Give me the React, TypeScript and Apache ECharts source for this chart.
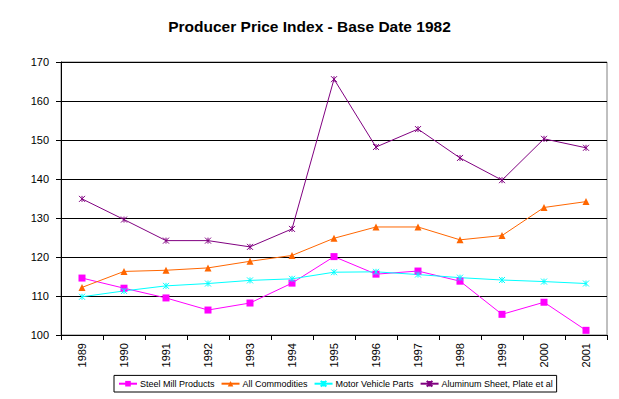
import React, { useEffect, useRef } from "react";
import * as echarts from "echarts";

const years = ["1989","1990","1991","1992","1993","1994","1995","1996","1997","1998","1999","2000","2001"];
const steelMill = [114.6,112.0,109.5,106.4,108.2,113.3,120.1,115.6,116.4,113.8,105.3,108.4,101.2];
const allCommodities = [112.2,116.3,116.6,117.2,118.9,120.4,124.8,127.7,127.7,124.4,125.5,132.7,134.2];
const motorVehicle = [109.8,111.3,112.6,113.2,114.0,114.4,116.1,116.2,115.5,114.7,114.1,113.7,113.2];
const aluminum = [134.9,129.6,124.2,124.2,122.6,127.2,165.6,148.2,152.8,145.4,139.7,150.3,148.0];

const star = "path://M0,0L10,10M10,0L0,10M5,0L5,10";

export default function App() {
  const ref = useRef<HTMLDivElement>(null);
  useEffect(() => {
    const chart = echarts.init(ref.current!, undefined, { renderer: "svg" });
    const font = "Liberation Sans, Arial, sans-serif";
    const mk = (name: string, data: number[], color: string, symbol: string, size: number, stroke: boolean) => ({
      name,
      type: "line",
      data,
      symbol,
      symbolSize: size,
      lineStyle: { color, width: 1 },
      itemStyle: stroke
        ? { color: "none", borderColor: color, borderWidth: 1 }
        : { color, borderColor: color, borderWidth: 0 },
      emphasis: { disabled: true },
    });
    chart.setOption({
      animation: false,
      backgroundColor: "#fff",
      title: {
        text: "Producer Price Index - Base Date 1982",
        left: "center",
        top: 13,
        textStyle: { fontFamily: font, fontSize: 15.5, fontWeight: "bold", color: "#000" },
      },
      grid: { left: 61, right: 12, top: 62, bottom: 64, show: true, borderColor: "#808080", borderWidth: 1, backgroundColor: "#fff" },
      xAxis: {
        type: "category",
        data: years,
        boundaryGap: true,
        axisLine: { lineStyle: { color: "#000" } },
        axisTick: { show: true, alignWithLabel: false, length: 5, lineStyle: { color: "#000" } },
        axisLabel: { rotate: 90, fontFamily: font, fontSize: 11, color: "#000", margin: 8, interval: 0 },
      },
      yAxis: {
        type: "value",
        min: 100,
        max: 170,
        interval: 10,
        axisLine: { show: true, lineStyle: { color: "#000" } },
        axisTick: { show: true, length: 5, lineStyle: { color: "#000" } },
        splitLine: { lineStyle: { color: "#000", width: 1 } },
        axisLabel: { fontFamily: font, fontSize: 11, color: "#000", margin: 12 },
      },
      legend: {
        bottom: 7,
        left: 114,
        itemWidth: 18,
        itemHeight: 7,
        itemGap: 6,
        padding: [3, 4, 3, 4],
        borderColor: "#000",
        borderWidth: 1,
        textStyle: { fontFamily: font, fontSize: 9, color: "#000", padding: [0, 0, 0, -2] },
        data: ["Steel Mill Products", "All Commodities", "Motor Vehicle Parts", "Aluminum Sheet, Plate et al"],
      },
      series: [
        mk("Steel Mill Products", steelMill, "#FF00FF", "rect", 7, false),
        mk("All Commodities", allCommodities, "#FF6600", "triangle", 7, false),
        mk("Motor Vehicle Parts", motorVehicle, "#00FFFF", star, 6, true),
        mk("Aluminum Sheet, Plate et al", aluminum, "#800080", star, 6, true),
      ],
    });
    return () => chart.dispose();
  }, []);
  return <div ref={ref} style={{ width: 619, height: 399, position: "absolute", left: 0, top: 0 }} />;
}
